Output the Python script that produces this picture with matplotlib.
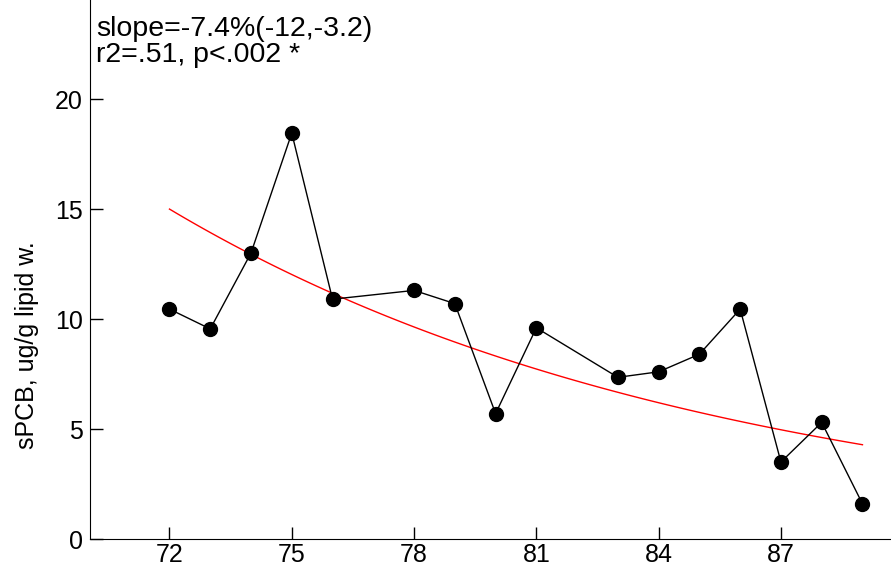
import matplotlib
matplotlib.use('Agg')
import matplotlib.pyplot as plt
import numpy as np

plt.rcParams['font.family'] = ['Liberation Sans', 'DejaVu Sans']

# yearly sPCB values (ug/g lipid weight), years 19xx
years = [72, 73, 74, 75, 76, 78, 79, 80, 81, 83, 84, 85, 86, 87, 88, 89]
spcb = [10.45, 9.55, 13.0, 18.45, 10.9, 11.3, 10.7, 5.7, 9.6, 7.35, 7.6, 8.4, 10.45, 3.5, 5.3, 1.6]
xticks = [72, 75, 78, 81, 84, 87]
yticks = [0, 5, 10, 15, 20]

# log-linear trend fitted to the data
x = np.array(years, dtype=float)
y = np.array(spcb)
k, b = np.polyfit(x, np.log(y), 1)
xf = np.linspace(x.min(), x.max(), 100)
yf = np.exp(b + k * xf)

fig = plt.figure(figsize=(8.91, 5.69), dpi=100)
ax = fig.add_axes([0.101, 0.0527, 0.899, 0.9473])

ax.plot(years, spcb, color='black', lw=1, marker='o', ms=10, zorder=3)
ax.plot(xf, yf, color='red', lw=1, zorder=2)

ax.set_xlim(70.05, 89.7)
ax.set_ylim(0, 24.5)
ax.set_xticks(xticks)
ax.set_yticks(yticks)
ax.tick_params(direction='in', length=9, labelsize=18, width=1)
ax.tick_params(axis='x', pad=3)
ax.tick_params(axis='y', pad=5)
ax.spines['top'].set_visible(False)
ax.spines['right'].set_visible(False)
ax.set_ylabel('sPCB, ug/g lipid w.', fontsize=18, labelpad=6)
ax.yaxis.set_label_coords(-0.064, 0.36)

ax.text(0.008, 0.97, 'slope=-7.4%(-12,-3.2)\nr2=.51, p<.002 *', transform=ax.transAxes,
        ha='left', va='top', fontsize=20.5, linespacing=0.97)

fig.savefig('out.png', dpi=100)
